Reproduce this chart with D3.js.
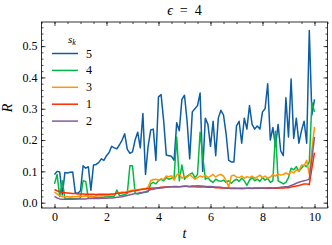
<!DOCTYPE html>
<html><head><meta charset="utf-8">
<script src="https://cdn.jsdelivr.net/npm/d3@7"></script>
<style>
html,body{margin:0;padding:0;background:#fff;}
svg text{font-family:"Liberation Serif","DejaVu Serif",serif;fill:#000;}
</style></head>
<body><svg id="c" width="332" height="245"></svg>
<script>
const titleSymbol = "\u03F5";
const titleRest = "\u2002=\u20024";
const xTicks = [0, 2, 4, 6, 8, 10];
const yTicks = [0.0, 0.1, 0.2, 0.3, 0.4, 0.5];
const tValues = d3.range(0, 101).map(i => i / 10);
const seriesNames = ["5", "4", "3", "1", "2"];
const seriesColors = ["#0C5DA5", "#00B945", "#FF9500", "#FF2C00", "#845B97"];

const s5 = [0.090,0.100,0.098,0.025,0.096,0.095,0.097,0.098,0.032,0.030,
0.038,0.118,0.110,0.115,0.040,0.120,0.122,0.128,0.140,0.135,
0.150,0.160,0.180,0.175,0.172,0.185,0.200,0.220,0.170,0.158,
0.162,0.200,0.225,0.175,0.285,0.090,0.180,0.232,0.235,0.135,
0.338,0.345,0.260,0.152,0.150,0.148,0.135,0.255,0.230,0.330,
0.343,0.260,0.140,0.290,0.300,0.310,0.350,0.100,0.270,0.250,
0.180,0.260,0.150,0.270,0.295,0.280,0.220,0.135,0.130,0.130,
0.245,0.260,0.190,0.270,0.235,0.310,0.250,0.235,0.245,0.235,
0.290,0.300,0.380,0.200,0.240,0.180,0.250,0.165,0.150,0.335,
0.210,0.395,0.205,0.270,0.190,0.230,0.260,0.190,0.550,0.280,
0.330];
const s4 = [0.060,0.090,0.020,0.070,0.013,0.012,0.014,0.013,0.012,0.013,
0.015,0.070,0.068,0.015,0.014,0.015,0.016,0.015,0.017,0.018,
0.020,0.019,0.020,0.021,0.040,0.022,0.024,0.025,0.030,0.118,
0.118,0.030,0.028,0.030,0.032,0.033,0.035,0.060,0.065,0.060,
0.070,0.075,0.070,0.080,0.075,0.078,0.080,0.210,0.070,0.120,
0.075,0.085,0.090,0.095,0.080,0.090,0.225,0.150,0.075,0.080,
0.070,0.065,0.075,0.070,0.068,0.072,0.065,0.070,0.062,0.070,
0.075,0.068,0.078,0.070,0.055,0.072,0.080,0.070,0.075,0.068,
0.080,0.072,0.078,0.065,0.070,0.228,0.070,0.065,0.060,0.065,
0.080,0.110,0.105,0.115,0.100,0.110,0.120,0.115,0.130,0.320,
0.290];
const s3 = [0.034,0.028,0.022,0.020,0.018,0.020,0.018,0.020,0.019,0.020,
0.021,0.020,0.022,0.020,0.021,0.020,0.022,0.021,0.023,0.022,
0.024,0.023,0.025,0.026,0.030,0.032,0.034,0.033,0.036,0.038,
0.040,0.042,0.041,0.043,0.044,0.045,0.050,0.070,0.074,0.075,
0.072,0.076,0.074,0.085,0.083,0.086,0.072,0.088,0.094,0.078,
0.085,0.080,0.090,0.082,0.075,0.080,0.085,0.082,0.088,0.080,
0.085,0.090,0.082,0.088,0.090,0.085,0.070,0.050,0.085,0.088,
0.082,0.080,0.085,0.078,0.083,0.080,0.085,0.078,0.082,0.088,
0.080,0.085,0.078,0.082,0.090,0.085,0.092,0.088,0.090,0.095,
0.090,0.100,0.095,0.105,0.100,0.120,0.118,0.135,0.090,0.170,
0.242];
const s1 = [0.042,0.038,0.035,0.033,0.032,0.031,0.030,0.029,0.029,0.028,
0.028,0.028,0.027,0.027,0.027,0.027,0.026,0.027,0.027,0.027,
0.027,0.027,0.028,0.028,0.030,0.030,0.031,0.032,0.033,0.035,
0.037,0.038,0.040,0.041,0.043,0.044,0.045,0.046,0.047,0.047,
0.048,0.049,0.050,0.050,0.050,0.051,0.052,0.051,0.051,0.052,
0.053,0.052,0.051,0.052,0.051,0.050,0.051,0.050,0.050,0.049,
0.050,0.049,0.048,0.048,0.047,0.047,0.046,0.046,0.045,0.046,
0.045,0.045,0.046,0.045,0.046,0.046,0.045,0.046,0.047,0.046,
0.047,0.046,0.047,0.046,0.046,0.047,0.046,0.047,0.047,0.048,
0.048,0.050,0.052,0.053,0.055,0.057,0.060,0.060,0.058,0.110,
0.160];
const s2 = [0.020,0.015,0.012,0.011,0.011,0.011,0.012,0.011,0.012,0.012,
0.012,0.012,0.012,0.013,0.013,0.013,0.013,0.013,0.014,0.014,
0.014,0.015,0.015,0.016,0.017,0.018,0.019,0.021,0.023,0.025,
0.027,0.029,0.030,0.032,0.033,0.035,0.038,0.042,0.043,0.045,
0.046,0.047,0.048,0.050,0.050,0.051,0.051,0.052,0.051,0.052,
0.052,0.053,0.052,0.053,0.053,0.054,0.053,0.053,0.052,0.052,
0.052,0.051,0.050,0.050,0.049,0.048,0.047,0.047,0.046,0.046,
0.046,0.046,0.045,0.046,0.046,0.047,0.046,0.047,0.046,0.047,
0.046,0.047,0.047,0.048,0.047,0.048,0.048,0.049,0.050,0.051,
0.052,0.055,0.058,0.062,0.065,0.068,0.070,0.072,0.075,0.140,
0.210];
const seriesValues = [s5, s4, s3, s1, s2];

const L = 41.5, R = 327.5, T = 22, B = 208;
const svg = d3.select("#c");
const x = d3.scaleLinear().domain([-0.5, 10.5]).range([L, R]);
const y = d3.scaleLinear().domain([-0.017, 0.577]).range([B, T]);

svg.append("defs").append("clipPath").attr("id","cp")
  .append("rect").attr("x", L).attr("y", T).attr("width", R-L).attr("height", B-T);

const line = d3.line().x(d => x(d[0])).y(d => y(d[1]));
const g = svg.append("g").attr("clip-path", "url(#cp)");
seriesValues.forEach((vals, k) => {
  g.append("path")
    .datum(tValues.map((t, i) => [t, vals[i]]))
    .attr("d", line).attr("fill", "none")
    .attr("stroke", seriesColors[k]).attr("stroke-width", 1.5)
    .attr("stroke-linejoin", "round");
});

const xMinor = d3.range(-0.5, 10.51, 0.5);
const yMinor = d3.range(0, 0.5701, 0.02).map(v => +v.toFixed(2));
function styleAxis(sel){
  sel.select(".domain").remove();
  sel.selectAll(".tick line").attr("stroke","#000").attr("stroke-width",0.7);
  sel.selectAll("text").style("font-family",'"Liberation Serif","DejaVu Serif",serif').attr("font-size", 12).attr("fill","#000");
}
svg.append("g").attr("transform",`translate(0,${B})`)
  .call(d3.axisBottom(x).tickValues(xMinor).tickSize(-2).tickFormat("")).call(styleAxis);
svg.append("g").attr("transform",`translate(0,${B})`)
  .call(d3.axisBottom(x).tickValues(xTicks).tickSize(-4).tickPadding(4).tickFormat(d3.format("d"))).call(styleAxis);
svg.append("g").attr("transform",`translate(0,${T})`)
  .call(d3.axisTop(x).tickValues(xMinor).tickSize(-2).tickFormat("")).call(styleAxis);
svg.append("g").attr("transform",`translate(0,${T})`)
  .call(d3.axisTop(x).tickValues(xTicks).tickSize(-4).tickFormat("")).call(styleAxis);
svg.append("g").attr("transform",`translate(${L},0)`)
  .call(d3.axisLeft(y).tickValues(yMinor).tickSize(-2).tickFormat("")).call(styleAxis);
svg.append("g").attr("transform",`translate(${L},0)`)
  .call(d3.axisLeft(y).tickValues(yTicks).tickSize(-4).tickPadding(4).tickFormat(d3.format(".1f"))).call(styleAxis);
svg.append("g").attr("transform",`translate(${R},0)`)
  .call(d3.axisRight(y).tickValues(yMinor).tickSize(-2).tickFormat("")).call(styleAxis);
svg.append("g").attr("transform",`translate(${R},0)`)
  .call(d3.axisRight(y).tickValues(yTicks).tickSize(-4).tickFormat("")).call(styleAxis);

svg.append("rect").attr("x", L).attr("y", T).attr("width", R-L).attr("height", B-T)
  .attr("fill","none").attr("stroke","#000").attr("stroke-width",0.8);

const tt = svg.append("text").attr("x", (L+R)/2).attr("y", 15).attr("text-anchor","middle")
  .attr("font-size", 14);
tt.append("tspan").attr("font-style","italic").text(titleSymbol);
tt.append("tspan").text(titleRest);

svg.append("text").attr("x", (L+R)/2).attr("y", 238).attr("text-anchor","middle")
  .attr("font-size", 14).attr("font-style","italic").text("t");
svg.append("text").attr("transform","translate(12,108) rotate(-90)").attr("text-anchor","middle")
  .attr("font-size", 14).attr("font-style","italic").text("R");

const lg = svg.append("g");
const lt = lg.append("text").attr("x", 72).attr("y", 43).attr("text-anchor","middle")
  .attr("font-size", 11).attr("font-style","italic");
lt.append("tspan").text("s");
lt.append("tspan").attr("font-size", 8).attr("dy", 2).text("k");
seriesNames.forEach((n, k) => {
  const yy = 53.5 + k * 16.9;
  lg.append("line").attr("x1", 52).attr("x2", 78).attr("y1", yy).attr("y2", yy)
    .attr("stroke", seriesColors[k]).attr("stroke-width", 1.5);
  lg.append("text").attr("x", 86).attr("y", yy + 4).attr("font-size", 12).text(n);
});
</script></body></html>
